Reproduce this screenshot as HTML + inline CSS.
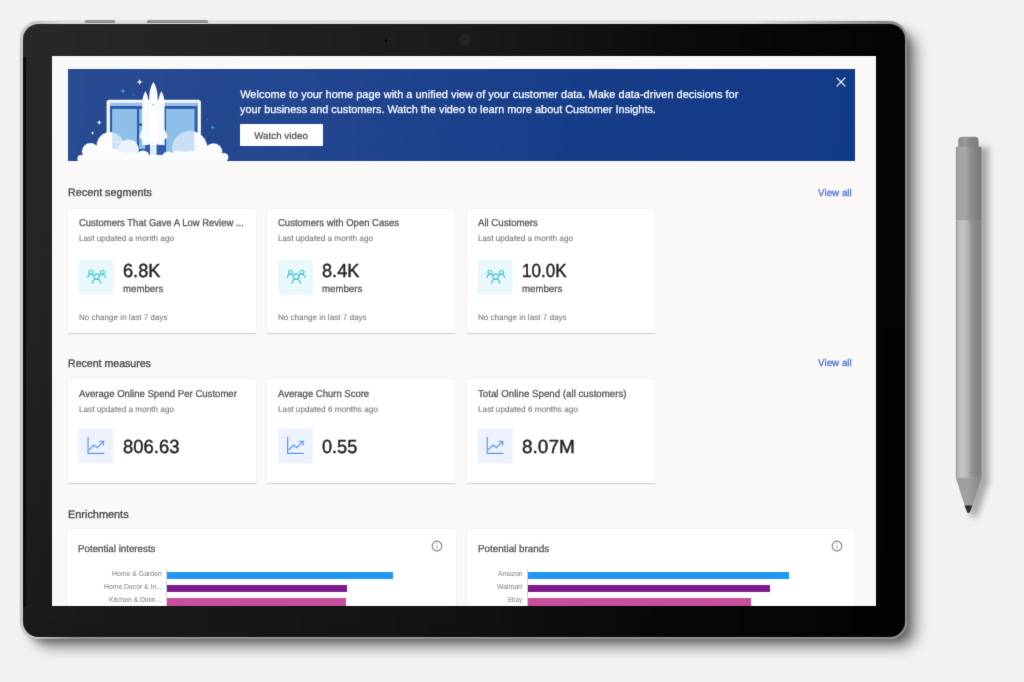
<!DOCTYPE html>
<html lang="en">
<head>
<meta charset="utf-8">
<title>Customer Insights - Home</title>
<style>
*{box-sizing:border-box;margin:0;padding:0}
html,body{width:1024px;height:682px;overflow:hidden;background:#f2f2f2}
body{font-family:"Liberation Sans",Arial,sans-serif;position:relative}
.stage{position:absolute;left:0;top:0;width:1024px;height:682px;background:#f2f2f2;overflow:hidden;filter:url(#soft)}
.defs{position:absolute;left:0;top:0;width:0;height:0}
.hwbtn{position:absolute;top:19.7px;height:3.8px;background:linear-gradient(180deg,#9a9a9a,#8a8a8a);border-radius:1.2px 1.2px 0 0}
.rimbot{position:absolute;left:14px;bottom:0;right:14px;height:2.2px;background:linear-gradient(90deg,rgba(146,146,146,0) 0,#969696 4%,#909090 96%,rgba(140,140,140,0) 100%)}
.rimtop{position:absolute;left:16px;top:0;right:26px;height:3px;background:linear-gradient(90deg,rgba(226,226,226,0) 0,#dcdcdc 3%,#dedede 85%,rgba(222,222,222,0) 100%)}
.tablet{position:absolute;left:20.6px;top:21.3px;width:886.1px;height:617.6px;border-radius:18px;
  background:linear-gradient(90deg,#c9c9c9 0,#c4c4c4 4%,#b2b2b2 30%,#9c9c9c 60%,#8a8a8a 100%);
  box-shadow:11px 10px 14px -2px rgba(0,0,0,.46),4px 4px 6px -1px rgba(0,0,0,.25),-.5px 0 1.2px rgba(0,0,0,.2)}
.bezel{position:absolute;left:2.6px;top:2.6px;right:1.9px;bottom:1.8px;border-radius:15.5px;
  background:linear-gradient(180deg,rgba(0,0,0,0) 0,rgba(0,0,0,.08) 40%,rgba(0,0,0,.36) 100%),linear-gradient(90deg,#282828 0,#252525 12%,#202020 30%,#1b1b1b 48%,#141414 60%,#0a0a0a 75%,#040404 100%)}
.edge{position:absolute;left:23.3px;top:56.5px;width:2.6px;height:550px;background:#0b0b0b;filter:blur(.4px)}
.cam{position:absolute;left:458.7px;top:33.8px;width:12px;height:12px;border-radius:50%;background:#252525;opacity:.9;filter:blur(.6px)}
.mic{position:absolute;left:384.5px;top:39.3px;width:2.4px;height:2.4px;border-radius:50%;background:#050505}
.screen{position:absolute;left:52px;top:56px;width:824px;height:550px;background:#faf9f8;overflow:hidden}
.blur{position:absolute;left:0;top:0;width:824px;height:550px}
.blur>*,.card>*,.banner>*{position:absolute}
.t{position:absolute;white-space:nowrap;text-rendering:geometricPrecision;line-height:1;font-weight:400;font-style:normal;text-decoration:none;display:block;transform-origin:0 50%}
.banner{background:linear-gradient(97deg,#284b92 0,#22468f 30%,#163d88 65%,#113a86 100%);overflow:hidden}
.watch{background:#fff;border:0;border-radius:1px;display:block}
.card{background:#fff;border-radius:1px;box-shadow:0 .6px 1.8px rgba(0,0,0,.11),0 .3px .9px rgba(0,0,0,.09)}
.bar{height:7.5px}
.axis{width:1px;background:#d4d2d0}
svg{display:block;overflow:visible}
</style>
</head>
<body>
<svg class="defs" width="0" height="0" aria-hidden="true"><defs><filter id="soft" x="0" y="0" width="100%" height="100%" color-interpolation-filters="sRGB"><feConvolveMatrix order="3" kernelMatrix="0.0100 0.0800 0.0100 0.0800 0.6400 0.0800 0.0100 0.0800 0.0100" divisor="1" edgeMode="duplicate" preserveAlpha="true"/></filter></defs></svg>
<div class="stage">
<div class="tablet"><div class="rimtop"></div><div class="rimbot"></div><div class="bezel"></div></div>
<div class="hwbtn" style="left:85.4px;width:30px"></div>
<div class="hwbtn" style="left:147.2px;width:61.2px"></div>
<div class="edge"></div><div class="cam"></div><div class="mic"></div>
<main class="screen"><div class="blur">
<section class="banner" style="left:15.6px;top:13.1px;width:787.1px;height:92.2px"><svg class="art" style="left:0;top:0" width="175" height="92.2" viewBox="67.6 69.1 175 92.2" aria-hidden="true"><defs><clipPath id="rp"><rect x="165.8" y="109" width="28.3" height="42.6"/></clipPath><clipPath id="lp"><rect x="111.8" y="109" width="24.7" height="40"/></clipPath></defs><path d="M139.2 79.1 L140.04 81.26 L142.2 82.1 L140.04 82.94 L139.2 85.1 L138.36 82.94 L136.2 82.1 L138.36 81.26Z" fill="#ffffff" opacity="1"/><path d="M98.8 120.2 L99.472 121.928 L101.2 122.6 L99.472 123.272 L98.8 125 L98.128 123.272 L96.4 122.6 L98.128 121.928Z" fill="#ffffff" opacity="1"/><path d="M92.2 131.3 L92.732 132.668 L94.1 133.2 L92.732 133.732 L92.2 135.1 L91.668 133.732 L90.3 133.2 L91.668 132.668Z" fill="#ffffff" opacity="1"/><path d="M122.5 88.7 L123.144 90.356 L124.8 91 L123.144 91.644 L122.5 93.3 L121.856 91.644 L120.2 91 L121.856 90.356Z" fill="#39b8e6" opacity="1"/><path d="M132.8 93.5 L133.192 94.508 L134.2 94.9 L133.192 95.292 L132.8 96.3 L132.408 95.292 L131.4 94.9 L132.408 94.508Z" fill="#3c7fd0" opacity="0.9"/><path d="M212.2 125.6 L212.788 127.112 L214.3 127.7 L212.788 128.288 L212.2 129.8 L211.612 128.288 L210.1 127.7 L211.612 127.112Z" fill="#39b8e6" opacity="0.9"/><path d="M207 118.4 L207.392 119.408 L208.4 119.8 L207.392 120.192 L207 121.2 L206.608 120.192 L205.6 119.8 L206.608 119.408Z" fill="#3c7fd0" opacity="0.8"/><rect x="106.2" y="99.9" width="94.3" height="70" rx="2.8" fill="#f6f9fd"/><rect x="109.5" y="103" width="87.7" height="52" fill="#2d5ca9"/><rect x="109.5" y="103" width="87.7" height="3.1" fill="#9cc1ea"/><rect x="111.8" y="109" width="24.7" height="40" fill="#8ebfe9"/><rect x="138.8" y="109" width="6" height="14.6" fill="#8ebfe9"/><rect x="138.8" y="126" width="6" height="23" fill="#8ebfe9"/><rect x="165.8" y="109" width="28.3" height="42.6" fill="#8ebfe9"/><circle cx="189.4" cy="148.6" r="17.7" fill="#fbfcfe"/><g clip-path="url(#rp)"><rect x="165.8" y="109" width="28.3" height="42.6" fill="#8ebfe9"/><circle cx="189.4" cy="148.6" r="17.7" fill="#ffffff" opacity=".52"/></g><circle cx="109.9" cy="145.9" r="13.7" fill="#fdfdfe"/><g clip-path="url(#lp)"><rect x="111.8" y="109" width="24.7" height="40" fill="#8ebfe9"/><circle cx="109.9" cy="145.9" r="13.7" fill="#ffffff" opacity=".55"/><rect x="111.8" y="140.8" width="24.7" height="2.4" fill="#ffffff" opacity=".25"/></g><circle cx="128.25" cy="149.8" r="10.2" fill="#edf3fb"/><rect x="149.6" y="143" width="6.6" height="14" fill="#e4eefa"/><rect x="143.2" y="103" width="20" height="40.6" fill="#e9eff8"/><path d="M145 91 C143.1 94.6 141.8 98.6 141.8 103.6 L141.8 145.2 L148.2 145.2 L148.2 103.6 C148.2 98.6 146.9 94.6 145 91Z" fill="#f9fbfd"/><path d="M161 91 C159.1 94.6 157.8 98.6 157.8 103.6 L157.8 145.2 L164.2 145.2 L164.2 103.6 C164.2 98.6 162.9 94.6 161 91Z" fill="#f9fbfd"/><path d="M153 122.5 C148 123.5 140.6 128.5 139.2 135.4 C138.7 138.2 139.8 139.4 142 139.4 L164 139.4 C166.2 139.4 167.3 138.2 166.8 135.4 C165.4 128.5 158 123.5 153 122.5Z" fill="#f5f8fc"/><path d="M153 81.8 C150.5 86 148.8 91 148.8 97 L148.8 144.8 L157.2 144.8 L157.2 97 C157.2 91 155.5 86 153 81.8Z" fill="#ffffff"/><path d="M151.3 105.4 Q153 103.4 154.7 105.4" fill="none" stroke="#6aa3e6" stroke-width=".8" stroke-linecap="round"/><circle cx="80.6" cy="158.6" r="3.6" fill="#fbfcfe"/><circle cx="90" cy="151.5" r="8.5" fill="#fbfcfe"/><circle cx="100" cy="155" r="8" fill="#fbfcfe"/><circle cx="112" cy="157" r="7" fill="#fbfcfe"/><circle cx="121" cy="158.5" r="6.2" fill="#fbfcfe"/><circle cx="130.5" cy="158.5" r="6.8" fill="#fbfcfe"/><circle cx="142.6" cy="157" r="6.4" fill="#fbfcfe"/><circle cx="152" cy="159.5" r="5" fill="#fbfcfe"/><circle cx="168" cy="158" r="6.6" fill="#fbfcfe"/><circle cx="177.5" cy="158.8" r="7.7" fill="#fbfcfe"/><circle cx="190" cy="160" r="9" fill="#fbfcfe"/><circle cx="202" cy="156" r="8" fill="#fbfcfe"/><circle cx="213.1" cy="152.2" r="8.8" fill="#fbfcfe"/><circle cx="223.6" cy="157.4" r="4.4" fill="#fbfcfe"/><rect x="80" y="157" width="146" height="6" fill="#fbfcfe"/></svg><p class="t" style="left:172.60px;top:20.92px;font-size:11px;color:#ffffff;letter-spacing:0.001px;-webkit-text-stroke:0.25px #ffffff">Welcome to your home page with a unified view of your customer data. Make data-driven decisions for</p>
<p class="t" style="left:172.60px;top:35.92px;font-size:11px;color:#ffffff;transform:scaleX(0.9882);-webkit-text-stroke:0.25px #ffffff">your business and customers. Watch the video to learn more about Customer Insights.</p><button class="watch" style="left:172.7px;top:55.3px;width:82.4px;height:21.2px"><span class="t" style="left:13.90px;top:7.62px;font-size:9.7px;color:#4a4a4a;letter-spacing:0.065px;-webkit-text-stroke:0.2px #4a4a4a">Watch video</span></button><button class="close" aria-label="Close" style="left:766.9px;top:5.6px;width:14px;height:14px;background:none;border:0"><svg width="14" height="14" viewBox="-7 -7 14 14"><path d="M-4.3 -4.3 L4.3 4.3 M4.3 -4.3 L-4.3 4.3" stroke="#fff" stroke-width="1.15" fill="none"/></svg></button></section>
<h2 class="t" style="left:15.90px;top:132.02px;font-size:11px;color:#474543;transform:scaleX(0.9789);-webkit-text-stroke:0.32px #474543">Recent segments</h2>
<a class="t" href="#" style="left:766.10px;top:133.02px;font-size:9.8px;color:#4f74d4;letter-spacing:0.001px;-webkit-text-stroke:0.3px #4f74d4">View all</a>
<article class="card" style="left:15.6px;top:152.6px;width:188px;height:124.2px"><h3 class="t" style="left:11.30px;top:10.42px;font-size:10px;color:#545250;transform:scaleX(0.9483);-webkit-text-stroke:0.28px #545250">Customers That Gave A Low Review ...</h3>
<p class="t" style="left:11.30px;top:25.42px;font-size:8.3px;color:#7f7d7b;transform:scaleX(0.9853);-webkit-text-stroke:0.12px #7f7d7b">Last updated a month ago</p>
<strong class="t" style="left:55.00px;top:53.42px;font-size:19px;color:#252423;transform:scaleX(0.9567);-webkit-text-stroke:0.45px #252423">6.8K</strong>
<span class="t" style="left:55.00px;top:76.42px;font-size:9.8px;color:#545250;transform:scaleX(0.9867);-webkit-text-stroke:0.25px #545250">members</span>
<p class="t" style="left:11.30px;top:105.42px;font-size:8.1px;color:#7f7d7b;transform:scaleX(0.9984);-webkit-text-stroke:0.12px #7f7d7b">No change in last 7 days</p><svg class="ico seg" style="left:9.4px;top:49.4px" width="38" height="38" viewBox="77 258 38 38" aria-hidden="true"><rect x="78.5" y="259.9" width="34.9" height="34.6" rx="1.2" fill="#e9f8fb"/><g transform="translate(96.55 277.55) scale(.93) translate(-17 -17.4)" fill="none" stroke="#43c3d4" stroke-width="1.2" stroke-linecap="round" stroke-linejoin="round"><circle cx="10.8" cy="11.6" r="2.1"/><circle cx="23.2" cy="11.6" r="2.1"/><circle cx="17" cy="16.4" r="2.9"/><path d="M7.6 17.4 C7.8 15.2 9.2 13.9 10.8 13.9 C12 13.9 12.9 14.4 13.6 15.3"/><path d="M26.4 17.4 C26.2 15.2 24.8 13.9 23.2 13.9 C22 13.9 21.1 14.4 20.4 15.3"/><path d="M12.4 23.6 C12.7 21 14.6 19.3 17 19.3 C19.4 19.3 21.3 21 21.6 23.6"/></g></svg></article>
<article class="card" style="left:215.2px;top:152.6px;width:188px;height:124.2px"><h3 class="t" style="left:11.30px;top:10.42px;font-size:10px;color:#545250;transform:scaleX(0.9514);-webkit-text-stroke:0.28px #545250">Customers with Open Cases</h3>
<p class="t" style="left:11.30px;top:25.42px;font-size:8.3px;color:#7f7d7b;transform:scaleX(0.9853);-webkit-text-stroke:0.12px #7f7d7b">Last updated a month ago</p>
<strong class="t" style="left:55.00px;top:53.42px;font-size:19px;color:#252423;transform:scaleX(0.9567);-webkit-text-stroke:0.45px #252423">8.4K</strong>
<span class="t" style="left:55.00px;top:76.42px;font-size:9.8px;color:#545250;transform:scaleX(0.9867);-webkit-text-stroke:0.25px #545250">members</span>
<p class="t" style="left:11.30px;top:105.42px;font-size:8.1px;color:#7f7d7b;transform:scaleX(0.9984);-webkit-text-stroke:0.12px #7f7d7b">No change in last 7 days</p><svg class="ico seg" style="left:9.8px;top:49.4px" width="38" height="38" viewBox="277 258 38 38" aria-hidden="true"><rect x="278.1" y="259.9" width="34.9" height="34.6" rx="1.2" fill="#e9f8fb"/><g transform="translate(296.15 277.55) scale(.93) translate(-17 -17.4)" fill="none" stroke="#43c3d4" stroke-width="1.2" stroke-linecap="round" stroke-linejoin="round"><circle cx="10.8" cy="11.6" r="2.1"/><circle cx="23.2" cy="11.6" r="2.1"/><circle cx="17" cy="16.4" r="2.9"/><path d="M7.6 17.4 C7.8 15.2 9.2 13.9 10.8 13.9 C12 13.9 12.9 14.4 13.6 15.3"/><path d="M26.4 17.4 C26.2 15.2 24.8 13.9 23.2 13.9 C22 13.9 21.1 14.4 20.4 15.3"/><path d="M12.4 23.6 C12.7 21 14.6 19.3 17 19.3 C19.4 19.3 21.3 21 21.6 23.6"/></g></svg></article>
<article class="card" style="left:414.8px;top:152.6px;width:188px;height:124.2px"><h3 class="t" style="left:11.30px;top:10.42px;font-size:10px;color:#545250;transform:scaleX(0.9622);-webkit-text-stroke:0.28px #545250">All Customers</h3>
<p class="t" style="left:11.30px;top:25.42px;font-size:8.3px;color:#7f7d7b;transform:scaleX(0.9853);-webkit-text-stroke:0.12px #7f7d7b">Last updated a month ago</p>
<strong class="t" style="left:55.00px;top:53.42px;font-size:19px;color:#252423;transform:scaleX(0.8982);-webkit-text-stroke:0.45px #252423">10.0K</strong>
<span class="t" style="left:55.00px;top:76.42px;font-size:9.8px;color:#545250;transform:scaleX(0.9867);-webkit-text-stroke:0.25px #545250">members</span>
<p class="t" style="left:11.30px;top:105.42px;font-size:8.1px;color:#7f7d7b;transform:scaleX(0.9984);-webkit-text-stroke:0.12px #7f7d7b">No change in last 7 days</p><svg class="ico seg" style="left:9.2px;top:49.4px" width="38" height="38" viewBox="476 258 38 38" aria-hidden="true"><rect x="477.7" y="259.9" width="34.9" height="34.6" rx="1.2" fill="#e9f8fb"/><g transform="translate(495.75 277.55) scale(.93) translate(-17 -17.4)" fill="none" stroke="#43c3d4" stroke-width="1.2" stroke-linecap="round" stroke-linejoin="round"><circle cx="10.8" cy="11.6" r="2.1"/><circle cx="23.2" cy="11.6" r="2.1"/><circle cx="17" cy="16.4" r="2.9"/><path d="M7.6 17.4 C7.8 15.2 9.2 13.9 10.8 13.9 C12 13.9 12.9 14.4 13.6 15.3"/><path d="M26.4 17.4 C26.2 15.2 24.8 13.9 23.2 13.9 C22 13.9 21.1 14.4 20.4 15.3"/><path d="M12.4 23.6 C12.7 21 14.6 19.3 17 19.3 C19.4 19.3 21.3 21 21.6 23.6"/></g></svg></article>
<h2 class="t" style="left:15.80px;top:303.02px;font-size:11px;color:#474543;transform:scaleX(0.9615);-webkit-text-stroke:0.32px #474543">Recent measures</h2>
<a class="t" href="#" style="left:766.10px;top:303.02px;font-size:9.8px;color:#4f74d4;letter-spacing:0.001px;-webkit-text-stroke:0.3px #4f74d4">View all</a>
<article class="card" style="left:15.6px;top:322.7px;width:188px;height:104.1px"><h3 class="t" style="left:11.30px;top:11.32px;font-size:10px;color:#545250;transform:scaleX(0.9574);-webkit-text-stroke:0.28px #545250">Average Online Spend Per Customer</h3>
<p class="t" style="left:11.30px;top:26.32px;font-size:8.3px;color:#7f7d7b;transform:scaleX(0.9853);-webkit-text-stroke:0.12px #7f7d7b">Last updated a month ago</p>
<strong class="t" style="left:55.00px;top:59.32px;font-size:19px;color:#252423;transform:scaleX(0.9703);-webkit-text-stroke:0.45px #252423">806.63</strong><svg class="ico mea" style="left:9.4px;top:48.3px" width="38" height="38" viewBox="77 427 38 38" aria-hidden="true"><rect x="78.5" y="428.6" width="34.9" height="34.6" rx="1.2" fill="#ecf3fe"/><g transform="translate(95.45 445.4) scale(.95) translate(-17 -17)" fill="none" stroke="#5496f1" stroke-width="1.25" stroke-linecap="square" stroke-linejoin="miter"><path d="M9.2 8.6 V25.4 H25.6"/><path d="M10.6 21.4 L15.4 16.6 L18.8 19.4 L25 13"/><path d="M21.4 12.6 H25.4 V16.6"/></g></svg></article>
<article class="card" style="left:215.2px;top:322.7px;width:188px;height:104.1px"><h3 class="t" style="left:11.30px;top:11.32px;font-size:10px;color:#545250;transform:scaleX(0.9491);-webkit-text-stroke:0.28px #545250">Average Churn Score</h3>
<p class="t" style="left:11.30px;top:26.32px;font-size:8.3px;color:#7f7d7b;transform:scaleX(0.9934);-webkit-text-stroke:0.12px #7f7d7b">Last updated 6 months ago</p>
<strong class="t" style="left:55.00px;top:59.32px;font-size:19px;color:#252423;transform:scaleX(0.9545);-webkit-text-stroke:0.45px #252423">0.55</strong><svg class="ico mea" style="left:9.8px;top:48.3px" width="38" height="38" viewBox="277 427 38 38" aria-hidden="true"><rect x="278.1" y="428.6" width="34.9" height="34.6" rx="1.2" fill="#ecf3fe"/><g transform="translate(295.05 445.4) scale(.95) translate(-17 -17)" fill="none" stroke="#5496f1" stroke-width="1.25" stroke-linecap="square" stroke-linejoin="miter"><path d="M9.2 8.6 V25.4 H25.6"/><path d="M10.6 21.4 L15.4 16.6 L18.8 19.4 L25 13"/><path d="M21.4 12.6 H25.4 V16.6"/></g></svg></article>
<article class="card" style="left:414.8px;top:322.7px;width:188px;height:104.1px"><h3 class="t" style="left:11.30px;top:11.32px;font-size:10px;color:#545250;transform:scaleX(0.9721);-webkit-text-stroke:0.28px #545250">Total Online Spend (all customers)</h3>
<p class="t" style="left:11.30px;top:26.32px;font-size:8.3px;color:#7f7d7b;transform:scaleX(0.9934);-webkit-text-stroke:0.12px #7f7d7b">Last updated 6 months ago</p>
<strong class="t" style="left:55.00px;top:59.32px;font-size:19px;color:#252423;transform:scaleX(0.9998);-webkit-text-stroke:0.45px #252423">8.07M</strong><svg class="ico mea" style="left:9.2px;top:48.3px" width="38" height="38" viewBox="476 427 38 38" aria-hidden="true"><rect x="477.7" y="428.6" width="34.9" height="34.6" rx="1.2" fill="#ecf3fe"/><g transform="translate(494.65 445.4) scale(.95) translate(-17 -17)" fill="none" stroke="#5496f1" stroke-width="1.25" stroke-linecap="square" stroke-linejoin="miter"><path d="M9.2 8.6 V25.4 H25.6"/><path d="M10.6 21.4 L15.4 16.6 L18.8 19.4 L25 13"/><path d="M21.4 12.6 H25.4 V16.6"/></g></svg></article>
<h2 class="t" style="left:15.60px;top:454.02px;font-size:11px;color:#474543;transform:scaleX(0.9912);-webkit-text-stroke:0.32px #474543">Enrichments</h2>
<article class="card" style="left:15.2px;top:473.3px;width:388.8px;height:82.7px"><h3 class="t" style="left:11.30px;top:15.72px;font-size:10px;color:#545250;transform:scaleX(0.9748);-webkit-text-stroke:0.28px #545250">Potential interests</h3>
<span class="t" style="left:44.50px;top:40.72px;font-size:7.4px;color:#7f7d7b;transform:scaleX(0.9343)">Home &amp; Garden</span>
<span class="t" style="left:36.50px;top:53.72px;font-size:7.4px;color:#7f7d7b;transform:scaleX(0.9213)">Home Decor &amp; In...</span>
<span class="t" style="left:42.10px;top:66.72px;font-size:7.4px;color:#7f7d7b;transform:scaleX(0.9223)">Kitchen &amp; Dinin...</span><div class="axis" style="left:99.3px;top:40.2px;width:1px;height:42.5px"></div><div class="bar" style="left:100.1px;top:42.7px;width:226.1px;height:7.5px;background:#2196f3"></div><div class="bar" style="left:100.1px;top:55.6px;width:179.3px;height:7.6px;background:#7d1a8c"></div><div class="bar" style="left:100.1px;top:68.7px;width:179px;height:7.6px;background:#c94f9d"></div><svg class="info" style="left:363.7px;top:11.1px" width="12" height="12" viewBox="-6 -6 12 12" role="img" aria-label="Info"><circle r="4.85" fill="none" stroke="#838180" stroke-width="1.1"/><path d="M0 -.9 V2.5" stroke="#8a9aa8" stroke-width=".9" fill="none"/><circle cy="-2.4" r=".55" fill="#8a9aa8"/></svg></article>
<article class="card" style="left:414.8px;top:473.3px;width:388.6px;height:82.7px"><h3 class="t" style="left:11.30px;top:15.72px;font-size:10px;color:#545250;transform:scaleX(0.9850);-webkit-text-stroke:0.28px #545250">Potential brands</h3>
<span class="t" style="left:30.80px;top:40.72px;font-size:7.4px;color:#7f7d7b;transform:scaleX(0.9069)">Amazon</span>
<span class="t" style="left:30.20px;top:53.72px;font-size:7.4px;color:#7f7d7b;transform:scaleX(0.9248)">Walmart</span>
<span class="t" style="left:41.40px;top:66.72px;font-size:7.4px;color:#7f7d7b;transform:scaleX(0.8304)">Ebay</span><div class="axis" style="left:60.6px;top:40.2px;width:1px;height:42.5px"></div><div class="bar" style="left:61.4px;top:42.7px;width:261.3px;height:7.5px;background:#2196f3"></div><div class="bar" style="left:61.4px;top:55.6px;width:241.6px;height:7.6px;background:#7d1a8c"></div><div class="bar" style="left:61.4px;top:68.7px;width:223.1px;height:7.6px;background:#c94f9d"></div><svg class="info" style="left:363.9px;top:11.1px" width="12" height="12" viewBox="-6 -6 12 12" role="img" aria-label="Info"><circle r="4.85" fill="none" stroke="#838180" stroke-width="1.1"/><path d="M0 -.9 V2.5" stroke="#8a9aa8" stroke-width=".9" fill="none"/><circle cy="-2.4" r=".55" fill="#8a9aa8"/></svg></article>
</div></main>
<svg class="pen" style="position:absolute;left:940px;top:125px" width="70" height="400" viewBox="940 125 70 400" aria-hidden="true"><defs><linearGradient id="pb" x1="0" x2="1" y1="0" y2="0"><stop offset="0" stop-color="#9c9c9c"/><stop offset=".12" stop-color="#bcbcbc"/><stop offset=".3" stop-color="#c5c5c5"/><stop offset=".48" stop-color="#b2b2b2"/><stop offset=".62" stop-color="#939393"/><stop offset=".82" stop-color="#868686"/><stop offset="1" stop-color="#808080"/></linearGradient><linearGradient id="pt" x1="0" x2="1" y1="0" y2="0"><stop offset="0" stop-color="#989898"/><stop offset=".15" stop-color="#a3a3a3"/><stop offset=".38" stop-color="#a7a7a7"/><stop offset=".58" stop-color="#8f8f8f"/><stop offset=".82" stop-color="#808080"/><stop offset="1" stop-color="#7a7a7a"/></linearGradient><linearGradient id="pc" x1="0" x2="1" y1="0" y2="0"><stop offset="0" stop-color="#8e8e8e"/><stop offset=".35" stop-color="#999"/><stop offset=".6" stop-color="#888"/><stop offset="1" stop-color="#7c7c7c"/></linearGradient><linearGradient id="pn" x1="0" x2="1" y1="0" y2="0"><stop offset="0" stop-color="#9a9a9a"/><stop offset=".4" stop-color="#a2a2a2"/><stop offset="1" stop-color="#868686"/></linearGradient><filter id="ps" x="-60%" y="-5%" width="220%" height="110%"><feGaussianBlur stdDeviation="3.4"/></filter></defs><path d="M963 147 H989 V482 L977 517 H970 Z" fill="#000" opacity=".3" filter="url(#ps)"/><path d="M958.2 148 V140.6 Q958.2 136.7 962.2 136.7 H974.6 Q978.6 136.7 978.6 140.6 V148Z" fill="url(#pc)"/><rect x="955.8" y="146.8" width="25.6" height="74" rx=".8" fill="url(#pt)"/><rect x="955.8" y="220.6" width="25.6" height="257" fill="url(#pb)"/><path d="M955.8 477.4 H981.4 L972.2 506 H964.8Z" fill="url(#pn)"/><path d="M964.6 505.4 H972.4 L969.8 512.2 Q968.5 513.6 967.2 512.2Z" fill="#2a2a2a"/></svg>
</div>
</body>
</html>
